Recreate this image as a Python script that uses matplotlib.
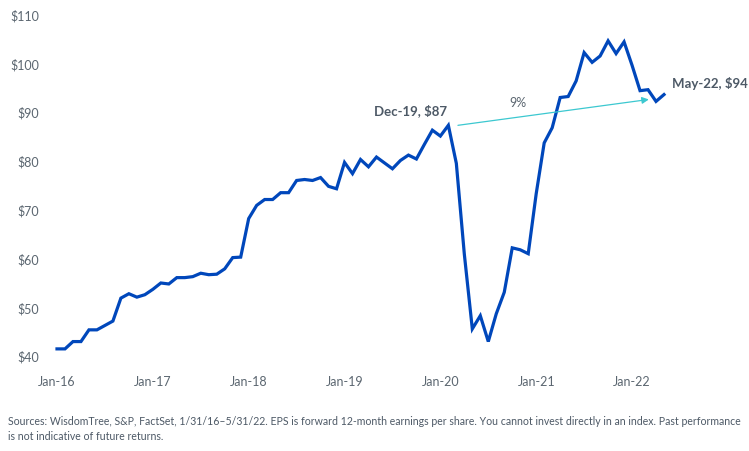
import numpy as np
import pandas as pd
import matplotlib
matplotlib.use("Agg")
import matplotlib.pyplot as plt

plt.rcParams['font.family'] = ['Lato', 'DejaVu Sans']

# forward 12-month EPS, month-end values
dates = pd.date_range("2016-01-31", "2022-05-31", freq="ME")
eps = [41.6, 41.6, 43.1, 43.1, 45.5, 45.5, 46.4, 47.3, 52.0, 52.9, 52.2, 52.7,
       53.8, 55.1, 54.9, 56.2, 56.2, 56.4, 57.1, 56.8, 56.9, 58.0, 60.3, 60.4,
       68.3, 71.0, 72.2, 72.2, 73.6, 73.6, 76.1, 76.3, 76.1, 76.7, 74.9, 74.4,
       79.8, 77.5, 80.4, 78.9, 80.9, 79.7, 78.5, 80.2, 81.3, 80.5, 83.5, 86.4,
       85.2, 87.4, 79.6, 61.0, 45.7, 48.4, 43.1, 48.8, 53.2, 62.3, 61.9, 61.1,
       73.4, 83.8, 86.9, 93.1, 93.3, 96.5, 102.3, 100.3, 101.6, 104.7, 102.1, 104.5,
       99.7, 94.5, 94.7, 92.3, 93.7]

yticks = [40, 50, 60, 70, 80, 90, 100, 110]
start_label = "Dec-19, $87"
end_label = "May-22, $94"
growth_label = "9%"
note = ("Sources: WisdomTree, S&P, FactSet, 1/31/16\u20135/31/22. EPS is forward 12-month earnings per share. "
        "You cannot invest directly in an index. Past performance\nis not indicative of future returns.")

W, H = 749, 451
fig = plt.figure(figsize=(W / 100, H / 100), dpi=100)
ax = fig.add_axes([57 / W, (H - 356.7) / H, 607 / W, 341.7 / H])

x = np.arange(len(eps))
ax.plot(x, eps, color="#0047bb", lw=2.3, solid_joinstyle="miter", clip_on=False)

ax.set_xlim(0, len(eps) - 1)
ax.set_ylim(40, 110)
ax.set_yticks(yticks)
ax.set_yticklabels([f"${v}" for v in yticks])
ax.set_xticks(x[::12])
ax.set_xticklabels([d.strftime("%b-%y") for d in dates[::12]])
for s in ax.spines.values():
    s.set_visible(False)
ax.tick_params(length=0, labelsize=9, colors="#5b6670")
ax.tick_params(axis="x", pad=14)
ax.tick_params(axis="y", pad=13)

# growth arrow from Dec-19 peak to latest
ax.annotate("", xy=(74.1, 92.7), xytext=(50.2, 87.4),
            arrowprops=dict(arrowstyle="-|>", color="#3cc8d0", lw=0.9,
                            mutation_scale=10, shrinkA=0, shrinkB=0))
ax.text(57.75, 92.0, growth_label, fontsize=9, color="#5b6670",
        ha="center", va="center")
ax.text(44.25, 90.5, start_label, fontsize=9.5, fontweight="bold",
        color="#4d5966", ha="center", va="center")
ax.text(77.0, 95.9, end_label, fontsize=9.5, fontweight="bold",
        color="#4d5966", ha="left", va="center", clip_on=False)

fig.text(8 / W, 1 - 416 / H, note, fontsize=7.6, color="#4d5966",
         ha="left", va="top", linespacing=1.45)

fig.savefig("out.png", dpi=100)
